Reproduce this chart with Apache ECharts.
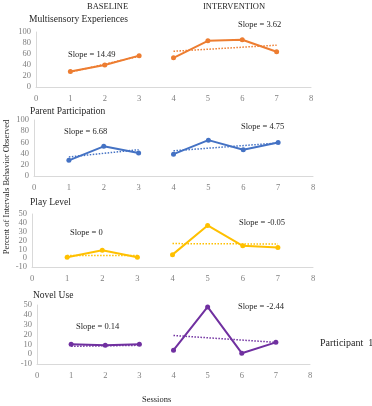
<!DOCTYPE html>
<html>
<head>
<meta charset="utf-8">
<script src="https://cdn.jsdelivr.net/npm/echarts@6/dist/echarts.min.js"></script>
<style>
  html, body { margin: 0; padding: 0; background: #fff; }
  #main { width: 372px; height: 406px; }
</style>
</head>
<body>
<div id="main"></div>
<script>
// sessions for each phase
var baseSessions = [1, 2, 3];
var intvSessions = [4, 5, 6, 7];

// Multisensory Experiences
var multiBase = [28, 40, 57];
var multiIntv = [53, 84, 86, 64];
var multiTrendBase = [27, 56];
var multiTrendIntv = [65, 76];

// Parent Participation
var parentBase = [28, 53, 41];
var parentIntv = [39, 64, 47, 60];
var parentTrendBase = [34, 47];
var parentTrendIntv = [45, 59];

// Play Level
var playBase = [1, 9, 1];
var playIntv = [4, 37, 14, 12];
var playTrendBase = [3, 3];
var playTrendIntv = [16.5, 16];

// Novel Use
var novelBase = [10, 9, 10];
var novelIntv = [4, 48, 1, 12];
var novelTrendBase = [8, 9];
var novelTrendIntv = [19, 12];

var titles = ['Multisensory Experiences', 'Parent Participation', 'Play Level', 'Novel Use'];
var slopesBase = ['Slope = 14.49', 'Slope = 6.68', 'Slope = 0', 'Slope = 0.14'];
var slopesIntv = ['Slope = 3.62', 'Slope = 4.75', 'Slope = -0.05', 'Slope = -2.44'];
var colors = ['#ED7D31', '#4472C4', '#FFC000', '#7030A0'];

var font = 'Liberation Serif';
var grey = '#d9d9d9';

var panels = [
  { base: multiBase, intv: multiIntv, tb: multiTrendBase, ti: multiTrendIntv, min: 0, max: 100, step: 20 },
  { base: parentBase, intv: parentIntv, tb: parentTrendBase, ti: parentTrendIntv, min: 0, max: 100, step: 20 },
  { base: playBase, intv: playIntv, tb: playTrendBase, ti: playTrendIntv, min: -10, max: 50, step: 10 },
  { base: novelBase, intv: novelIntv, tb: novelTrendBase, ti: novelTrendIntv, min: -10, max: 50, step: 10 }
];

var grids = [
  { left: 36, top: 32, width: 275, height: 55 },
  { left: 34, top: 120, width: 279, height: 56 },
  { left: 32, top: 214, width: 281, height: 53 },
  { left: 37, top: 305, width: 273, height: 59 }
];

function pairs(xs, ys) {
  return xs.map(function (x, i) { return [x, ys[i]]; });
}

var xAxes = [], yAxes = [], series = [];
panels.forEach(function (p, i) {
  xAxes.push({
    type: 'value', gridIndex: i, min: 0, max: 8, interval: 1,
    axisLine: { show: true, onZero: false, lineStyle: { color: grey, width: 1 } },
    axisTick: { show: false }, splitLine: { show: false },
    axisLabel: { color: '#7f7f7f', fontFamily: font, fontSize: 8.5, margin: 7 }
  });
  yAxes.push({
    type: 'value', gridIndex: i, min: p.min, max: p.max, interval: p.step,
    axisLine: { show: true, lineStyle: { color: grey, width: 1 } },
    axisTick: { show: false }, splitLine: { show: false },
    axisLabel: { color: '#7f7f7f', fontFamily: font, fontSize: 8.5, margin: 5 }
  });
  var line = { width: 2, color: colors[i] };
  series.push({
    type: 'line', xAxisIndex: i, yAxisIndex: i, data: pairs(baseSessions, p.base),
    symbol: 'circle', symbolSize: 5, itemStyle: { color: colors[i] }, lineStyle: line, z: 3
  });
  series.push({
    type: 'line', xAxisIndex: i, yAxisIndex: i, data: pairs(intvSessions, p.intv),
    symbol: 'circle', symbolSize: 5, itemStyle: { color: colors[i] }, lineStyle: line, z: 3
  });
  series.push({
    type: 'line', xAxisIndex: i, yAxisIndex: i, data: pairs([1, 3], p.tb),
    symbol: 'none', lineStyle: { width: 1.5, type: 'dotted', color: colors[i] }, z: 2
  });
  series.push({
    type: 'line', xAxisIndex: i, yAxisIndex: i, data: pairs([4, 7], p.ti),
    symbol: 'none', lineStyle: { width: 1.5, type: 'dotted', color: colors[i] }, z: 2
  });
});

// text items placed with x/y so nothing gets clipped at the right edge
var txt = function (x, y, s, size) {
  return { type: 'text', x: x, y: y, style: { text: s, fill: '#262626', font: (size || 8) + 'px "' + font + '"', verticalAlign: 'top' } };
};

var graphics = [
  txt(87, 2, 'BASELINE', 8.5),
  txt(203, 2, 'INTERVENTION', 8.5),
  txt(29, 14, titles[0], 9.5),
  txt(30, 106, titles[1], 9.5),
  txt(30, 197, titles[2], 9.5),
  txt(33, 290, titles[3], 9.5),
  txt(68, 50, slopesBase[0], 8.5),
  txt(238, 20, slopesIntv[0], 8.5),
  txt(64, 127, slopesBase[1], 8.5),
  txt(241, 122, slopesIntv[1], 8.5),
  txt(70, 228, slopesBase[2], 8.5),
  txt(239, 218, slopesIntv[2], 8.5),
  txt(76, 322, slopesBase[3], 8.5),
  txt(238, 302, slopesIntv[3], 8.5),
  txt(320, 338, 'Participant  1', 10),
  txt(142, 395, 'Sessions', 8.5),
  {
    type: 'text', x: 2, y: 187, rotation: Math.PI / 2,
    style: { text: 'Percent of Intervals Behavior Observed', fill: '#262626', font: '8.5px "' + font + '"', align: 'center', verticalAlign: 'top' }
  }
];

var myChart = echarts.init(document.getElementById('main'));
myChart.setOption({
  animation: false,
  grid: grids,
  xAxis: xAxes,
  yAxis: yAxes,
  series: series,
  graphic: graphics
});
</script>
</body>
</html>
